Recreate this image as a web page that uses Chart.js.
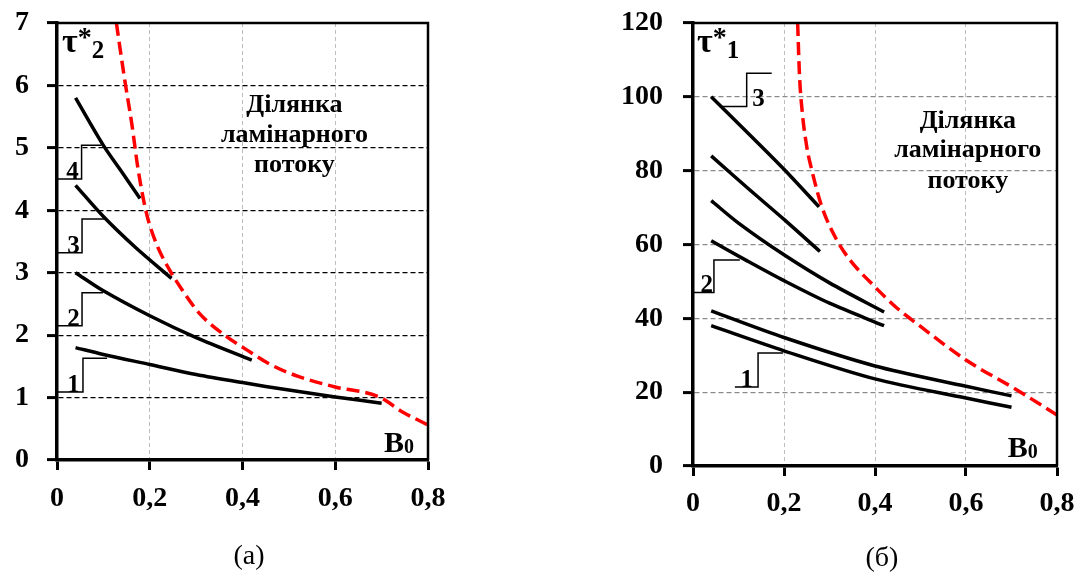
<!DOCTYPE html>
<html>
<head>
<meta charset="utf-8">
<script src="https://cdn.jsdelivr.net/npm/chart.js@4.4.1/dist/chart.umd.min.js"></script>
<style>
body { margin: 0; background: #fff; width: 1086px; height: 577px; overflow: hidden; position: relative; }
canvas { position: absolute; top: 0; }
#chartA { left: 0; }
#chartB { left: 600px; }
.cap { position: absolute; width: 100px; text-align: center; font-family: 'Liberation Serif', 'Times New Roman', serif; font-size: 28px; line-height: 32px; }
</style>
</head>
<body>
<canvas id="chartA" width="540" height="577"></canvas>
<canvas id="chartB" width="486" height="577"></canvas>
<div class="cap" style="left:199px; top:539px">(a)</div>
<div class="cap" style="left:832px; top:541px">(б)</div>
<script>
// Tick labels ==>
var xTickLabels = ['0', '0,2', '0,4', '0,6', '0,8'];
var yTickLabelsA = ['0', '1', '2', '3', '4', '5', '6', '7'];
var yTickLabelsB = ['0', '20', '40', '60', '80', '100', '120'];

// Chart (a): tau*2 vs B0 ==>
var a1X = [0.04, 0.1, 0.2, 0.3, 0.4, 0.5, 0.6, 0.7];
var a1Y = [1.80, 1.69, 1.53, 1.37, 1.24, 1.12, 1.01, 0.91];
var a2X = [0.04, 0.1, 0.2, 0.3, 0.42];
var a2Y = [3.00, 2.71, 2.31, 1.96, 1.60];
var a3X = [0.04, 0.1, 0.17, 0.247];
var a3Y = [4.40, 3.90, 3.40, 2.91];
var a4X = [0.04, 0.1, 0.142, 0.179];
var a4Y = [5.80, 5.04, 4.59, 4.19];
var aLimX = [0.128, 0.146, 0.161, 0.175, 0.193, 0.214, 0.243, 0.265, 0.307, 0.365, 0.41, 0.46, 0.52, 0.6, 0.695, 0.745, 0.8];
var aLimY = [7.0, 6.09, 5.4, 4.65, 3.95, 3.47, 3.04, 2.78, 2.35, 1.98, 1.76, 1.53, 1.34, 1.17, 1.01, 0.77, 0.56];

// Chart (b): tau*1 vs B0 ==>
var b1X = [0.04, 0.12, 0.2, 0.277];
var b1Y = [100, 90.3, 80.4, 70.2];
var b2X = [0.04, 0.12, 0.2, 0.279];
var b2Y = [84, 75.3, 66.8, 58.1];
var b3X = [0.04, 0.1, 0.2, 0.3, 0.42];
var b3Y = [71.9, 65.8, 57.2, 49.6, 41.7];
var b4X = [0.04, 0.12, 0.2, 0.3, 0.42];
var b4Y = [61, 55.5, 50.2, 44.1, 38.0];
var b5X = [0.04, 0.2, 0.4, 0.6, 0.7];
var b5Y = [42, 34.8, 27.1, 21.6, 19.0];
var b6X = [0.04, 0.2, 0.4, 0.6, 0.7];
var b6Y = [38, 31.2, 23.6, 18.4, 15.9];
var bLimX = [0.230, 0.234, 0.240, 0.250, 0.261, 0.283, 0.316, 0.345, 0.4, 0.448, 0.5, 0.6, 0.712, 0.8];
var bLimY = [120, 106, 96, 86.5, 80.2, 70.3, 61.2, 55.8, 48.5, 42.8, 37.8, 28.7, 20.6, 13.8];

// Curve number callouts ==>
var aCall1X = [0, 0.056, 0.056, 0.108], aCall1Y = [1.09, 1.09, 1.63, 1.63];
var aCall2X = [0, 0.054, 0.054, 0.099], aCall2Y = [2.15, 2.15, 2.68, 2.68];
var aCall3X = [0, 0.054, 0.054, 0.103], aCall3Y = [3.32, 3.32, 3.86, 3.86];
var aCall4X = [0, 0.053, 0.053, 0.096], aCall4Y = [4.50, 4.50, 5.04, 5.04];
var bCall1X = [0.092, 0.143, 0.143, 0.198], bCall1Y = [21.4, 21.4, 30.6, 30.6];
var bCall2X = [0, 0.046, 0.046, 0.103], bCall2Y = [47, 47, 55.8, 55.8];
var bCall3X = [0.063, 0.118, 0.118, 0.173], bCall3Y = [97.4, 97.4, 106.4, 106.4];

var serif = "'Liberation Serif', 'Times New Roman', serif";
Chart.defaults.font.family = serif;
Chart.defaults.color = '#000';

function pts(xs, ys) {
    return xs.map(function (x, i) { return { x: x, y: ys[i] }; });
}
function curve(xs, ys) {
    return { data: pts(xs, ys), borderColor: '#000', borderWidth: 3.5, pointRadius: 0, tension: 0.3, fill: false };
}
function limit(xs, ys) {
    return { data: pts(xs, ys), borderColor: '#ff0000', borderWidth: 3.5, borderDash: [13, 6], pointRadius: 0, cubicInterpolationMode: 'monotone', fill: false };
}
function callout(xs, ys) {
    return { data: pts(xs, ys), borderColor: '#000', borderWidth: 1.5, pointRadius: 0, tension: 0, fill: false };
}

// no extra room for the first/last tick labels, the padding below fixes the plot box
function noLabelPad(s) {
    s.paddingTop = 0;
    s.paddingBottom = 0;
    s.paddingLeft = 0;
    s.paddingRight = 0;
}

// Texts inside the plot + top/right frame ==>
// a note is either plain text or a row of parts (for sub/superscripts)
function notesPlugin(notes) {
    return {
        id: 'notes',
        afterDatasetsDraw: function (chart) {
            var ctx = chart.ctx, sx = chart.scales.x, sy = chart.scales.y, a = chart.chartArea;
            ctx.save();
            ctx.strokeStyle = '#000';
            ctx.lineWidth = 2.5;
            ctx.beginPath();
            ctx.moveTo(a.left, a.top);
            ctx.lineTo(a.right, a.top);
            ctx.lineTo(a.right, a.bottom);
            ctx.stroke();
            ctx.fillStyle = '#000';
            ctx.textBaseline = 'alphabetic';
            notes.forEach(function (n) {
                var px = sx.getPixelForValue(n.x), py = sy.getPixelForValue(n.y);
                if (n.parts) {
                    ctx.textAlign = 'left';
                    n.parts.forEach(function (p) {
                        ctx.font = 'bold ' + p.size + 'px ' + serif;
                        ctx.fillText(p.t, px, py + p.dy);
                        px += ctx.measureText(p.t).width;
                    });
                    return;
                }
                ctx.font = 'bold ' + n.size + 'px ' + serif;
                ctx.textAlign = n.align || 'left';
                ctx.fillText(n.text, px, py);
            });
            ctx.restore();
        }
    };
}

function makeChart(id, datasets, yMax, yStep, yLabels, yWidth, xHeight, padTop, padRight, yGridColor, xPad, yPad, notes) {
    return new Chart(document.getElementById(id), {
        type: 'line',
        data: { datasets: datasets },
        options: {
            responsive: false,
            animation: false,
            layout: { padding: { left: 0, top: padTop, right: padRight, bottom: 0 } },
            plugins: { legend: { display: false }, tooltip: { enabled: false } },
            scales: {
                x: {
                    type: 'linear', min: 0, max: 0.8,
                    afterFit: function (s) { s.height = xHeight; noLabelPad(s); },
                    ticks: {
                        stepSize: 0.2, padding: xPad, color: '#000', maxRotation: 0,
                        font: { size: 28, weight: 'bold' },
                        callback: function (v, i) { return xTickLabels[i]; }
                    },
                    grid: { color: '#bdbdbd', lineWidth: 1, tickLength: 10, tickColor: '#000', tickWidth: 3 },
                    border: { color: '#000', width: 3.5, dash: [4, 3] }
                },
                y: {
                    min: 0, max: yMax,
                    afterFit: function (s) { s.width = yWidth; noLabelPad(s); },
                    ticks: {
                        stepSize: yStep, padding: yPad, color: '#000',
                        font: { size: 28, weight: 'bold' },
                        callback: function (v, i) { return yLabels[i]; }
                    },
                    grid: { color: yGridColor, lineWidth: 1.2, tickLength: 10, tickColor: '#000', tickWidth: 3 },
                    border: { color: '#000', width: 3.5, dash: [5, 3] }
                }
            }
        },
        plugins: [notesPlugin(notes)]
    });
}

// Chart (a) ==>
makeChart('chartA', [
    limit(aLimX, aLimY),
    curve(a1X, a1Y), curve(a2X, a2Y), curve(a3X, a3Y), curve(a4X, a4Y),
    callout(aCall1X, aCall1Y), callout(aCall2X, aCall2Y), callout(aCall3X, aCall3Y), callout(aCall4X, aCall4Y)
], 7, 1, yTickLabelsA, 57, 117, 23, 112, '#000', 12, 18, [
    { x: 0.011, y: 6.54, parts: [{ t: 'τ', size: 34, dy: 0 }, { t: '*', size: 28, dy: -6 }, { t: '2', size: 25, dy: 6 }] },
    { x: 0.705, y: 0.128, parts: [{ t: 'B', size: 30, dy: 0 }, { t: '0', size: 20, dy: 1 }] },
    { text: 'Ділянка', x: 0.512, y: 5.58, size: 26, align: 'center' },
    { text: 'ламінарного', x: 0.512, y: 5.10, size: 26, align: 'center' },
    { text: 'потоку', x: 0.512, y: 4.62, size: 26, align: 'center' },
    { text: '1', x: 0.049, y: 1.09, size: 25, align: 'right' },
    { text: '2', x: 0.049, y: 2.15, size: 25, align: 'right' },
    { text: '3', x: 0.049, y: 3.32, size: 25, align: 'right' },
    { text: '4', x: 0.047, y: 4.50, size: 25, align: 'right' }
]);

// Chart (b) ==>
makeChart('chartB', [
    limit(bLimX, bLimY),
    curve(b1X, b1Y), curve(b2X, b2Y), curve(b3X, b3Y), curve(b4X, b4Y), curve(b5X, b5Y), curve(b6X, b6Y),
    callout(bCall1X, bCall1Y), callout(bCall2X, bCall2Y), callout(bCall3X, bCall3Y)
], 120, 20, yTickLabelsB, 93, 111, 23, 29, '#8c8c8c', 11, 20, [
    { x: 0.009, y: 112.2, parts: [{ t: 'τ', size: 34, dy: 0 }, { t: '*', size: 28, dy: -6 }, { t: '1', size: 25, dy: 6 }] },
    { x: 0.692, y: 2.44, parts: [{ t: 'B', size: 30, dy: 0 }, { t: '0', size: 20, dy: 1 }] },
    { text: 'Ділянка', x: 0.604, y: 91.6, size: 26, align: 'center' },
    { text: 'ламінарного', x: 0.604, y: 83.7, size: 26, align: 'center' },
    { text: 'потоку', x: 0.604, y: 75.3, size: 26, align: 'center' },
    { text: '1', x: 0.132, y: 21.4, size: 25, align: 'right' },
    { text: '2', x: 0.044, y: 47, size: 25, align: 'right' },
    { text: '3', x: 0.13, y: 97.4, size: 25, align: 'left' }
]);
</script>
</body>
</html>
